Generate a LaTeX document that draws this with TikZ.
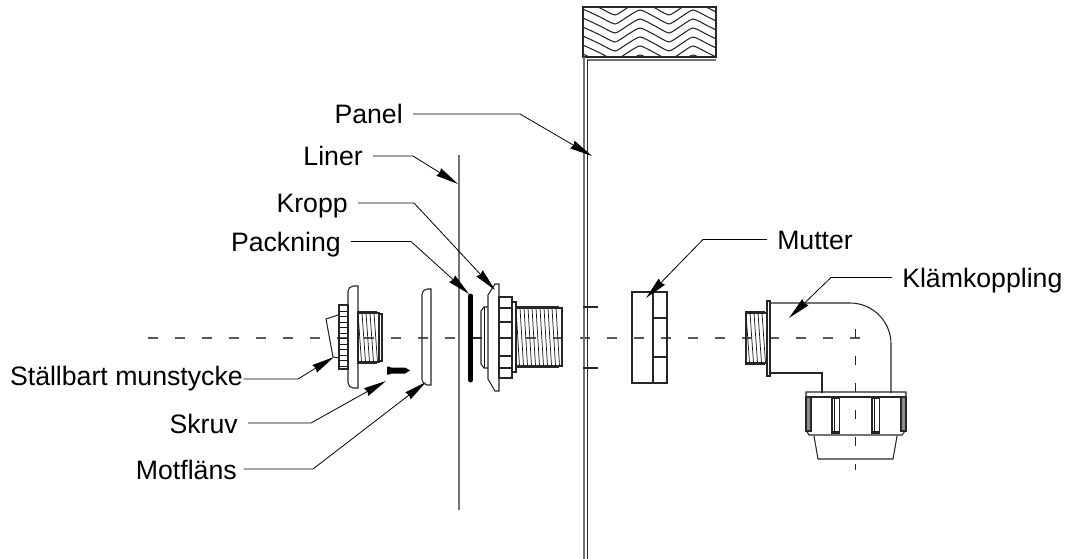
\documentclass[tikz,border=0pt]{standalone}
\usepackage{fontspec}
\setmainfont{Liberation Sans}
\usetikzlibrary{arrows.meta}
\tikzset{
    lbl/.style={font=\fontsize{20}{24}\selectfont,inner sep=0pt,text height=19.5pt,text depth=4.5pt},
    leader/.style={line width=.6pt,shorten <=7.5pt,-{Stealth[length=17pt,width=6.5pt,inset=1pt]}},
    part/.style={line width=.8pt,black!85},
    thin part/.style={line width=.55pt,black!90},
    axisline/.style={line width=.8pt,black!65,dash pattern=on 7.5pt off 12.75pt},
}
% gangor: from x, to x, upper y, lower y
\newcommand{\threadbox}[4]{
    \pgfmathsetmacro{\secondx}{#1+4}
    \pgfmathsetmacro{\lastx}{#2-4}
    \foreach \t in {#1,\secondx,...,\lastx}{
        \draw[thin part] (\t,#3) -- +(3.5,#4-#3);
        \draw[part] (\t,#3) -- +(0,-1.5) (\t+2,#3) -- +(0,-1.5) (\t,#4) -- +(0,1.5) (\t+2,#4) -- +(0,1.5);
    }
    \draw[part] (#1,#3) rectangle (#2,#4);
}
\begin{document}
\begin{tikzpicture}[x=.75pt,y=-.75pt]
    %colores
    \colorlet{gline}{black!55}
    \useasboundingbox (0,0) rectangle (1070,559);

    % Centre lines
    \draw[axisline] (148,338) -- (862,338);
    \draw[line width=.7pt,black!85,dash pattern=on 6.5pt off 13.75pt] (855.5,329) -- (855.5,470);

    % Wood
    \begin{scope}
        \clip (583,7) rectangle (716,57);
        \foreach \d in {-17,-8,1,10,19,28,37,46,55}
        \draw[part,shift={(0,\d)}] plot[smooth,tension=.35] coordinates {(570,-5) (585,0) (600,7) (615,14) (627,7) (640,0) (655,7) (669,14) (681,7) (693,0) (708,7) (722,14)};
    \end{scope}
    \draw[line width=1.1pt,black!85] (583,7) rectangle (716,57);

    % Panel, liner
    \draw[gline,line width=1.2pt] (584,57) -- (584,559) (587,60) -- (716,60);
    \draw[line width=.7pt,black!85] (587,60) -- (587,559);
    \draw[gline,line width=1.1pt] (459,155) -- (459,510);
    \foreach \y in {307,368}
    \draw[part] (583,\y) -- (598,\y);

    % Nozzle
    \draw[part] (338,315) -- (326,319) -- (333,357) -- (339,358);
    \draw[part] (339,305) rectangle (348,369);
    \foreach \y in {311,316.5,322,327.5,333,338.5,344,349.5,355,360.5,366}
    \draw[thin part] (339,\y) -- (348,\y);
    \draw[part] (358,388) -- (358,286) [rounded corners=4pt] -- (348,286) -- (348,388) [sharp corners] -- cycle;
    \threadbox{358}{379}{313}{362}
    \draw[part] (379,314) rectangle (382,361);

    % Screw
    \fill[black] (387,366.5) -- (389,366.5) -- (391,367.5) -- (405,367.5) -- (410,370.5) -- (405,373.5) -- (391,373.5) -- (389,374.5) -- (387,374.5) -- cycle;

    % Counter flange
    \draw[part] (431,385) -- (431,289) [rounded corners=4pt] -- (422,289) -- (422,385) [sharp corners] -- cycle;

    % Gasket
    \draw[line width=3.75pt,line cap=round] (470.5,296) -- (470.5,380);
    \draw[part] (473,338) -- (481,338);

    % Body
    \draw[part] (488,307) -- (484,307) -- (481,311) -- (481,364) -- (484,368) -- (488,368);
    \draw[thin part] (484,307) -- (484,368);
    \draw[part] (488,295) -- (495,284) -- (499,284) -- (499,391) -- (495,391) -- (488,379) -- cycle;
    \draw[part] (499,297) rectangle (512,378);
    \foreach \y in {308,322,338,356,368}
    \draw[part] (499,\y) -- (512,\y);
    \draw[part] (512,302) rectangle (516,372);
    \threadbox{516}{562}{308}{366}

    % Nut
    \draw[part] (632,292) rectangle (667,383);
    \draw[part] (653,292) -- (653,383);
    \foreach \y in {318,357}
    \draw[part] (653,\y) -- (667,\y);

    % Clamp coupling
    \threadbox{746}{767}{313}{363}
    \draw[part] (767,301) rectangle (770,376);
    \draw[part] (770,303) -- (850,303) arc (-90:0:41) -- (891,393);
    \draw[part] (770,373) -- (822,373) -- (822,393);
    \draw[part] (806,397) -- (806,392) -- (906,392) -- (906,430) -- (902,435) -- (809,435) -- (806,430) -- cycle;
    \draw[part] (806,397) -- (906,397);
    \foreach \x in {806,901}
    \draw[part,fill=black!45] (\x,397) rectangle +(5,34);
    \foreach \x in {832,872}{
        \draw[part] (\x,398) rectangle +(7.5,35);
        \draw[thin part] (\x+2,398) -- +(0,35) (\x,431) -- +(7.5,0);
    }
    \draw[part] (814,436) -- (818,459) -- (893,459) -- (897,436);

    % Labels
    \node[lbl,anchor=east] (panel) at (403,114) {Panel};
    \node[lbl,anchor=east] (liner) at (363,156) {Liner};
    \node[lbl,anchor=east] (kropp) at (348,203) {Kropp};
    \node[lbl,anchor=east] (packning) at (341,241.5) {Packning};
    \node[lbl,anchor=west] (mutter) at (777,239.5) {Mutter};
    \node[lbl,anchor=west] (klamkoppling) at (902,277.5) {Klämkoppling};
    \node[lbl,anchor=east] (munstycke) at (243,375) {Ställbart munstycke};
    \node[lbl,anchor=east] (skruv) at (238,423) {Skruv};
    \node[lbl,anchor=east] (motflans) at (237,469) {Motfläns};

    % Leaders
    \coordinate (panel tip) at (592,156);
    \coordinate (liner tip) at (458,184);
    \coordinate (kropp tip) at (495,290);
    \coordinate (packning tip) at (469,294);
    \coordinate (mutter tip) at (646,298);
    \coordinate (klamkoppling tip) at (789,318);
    \coordinate (munstycke tip) at (334,357);
    \coordinate (skruv tip) at (386,381);
    \coordinate (motflans tip) at (426,382);

    \draw[leader] (panel.east) -- (520,114) -- (panel tip);
    \draw[leader] (liner.east) -- (413,156) -- (liner tip);
    \draw[leader] (kropp.east) -- (414,203) -- (kropp tip);
    \draw[leader] (packning.east) -- (411,241.5) -- (packning tip);
    \draw[leader] (mutter.west) -- (703,239.5) -- (mutter tip);
    \draw[leader] (klamkoppling.west) -- (831,277.5) -- (klamkoppling tip);
    \draw[leader,shorten <=.5pt] ([yshift=-3pt]munstycke.east) -- (298,379) -- (munstycke tip);
    \draw[leader] (skruv.east) -- (311,423) -- (skruv tip);
    \draw[leader,shorten <=5pt] (motflans.east) -- (313,469) -- (motflans tip);
\end{tikzpicture}
\end{document}
